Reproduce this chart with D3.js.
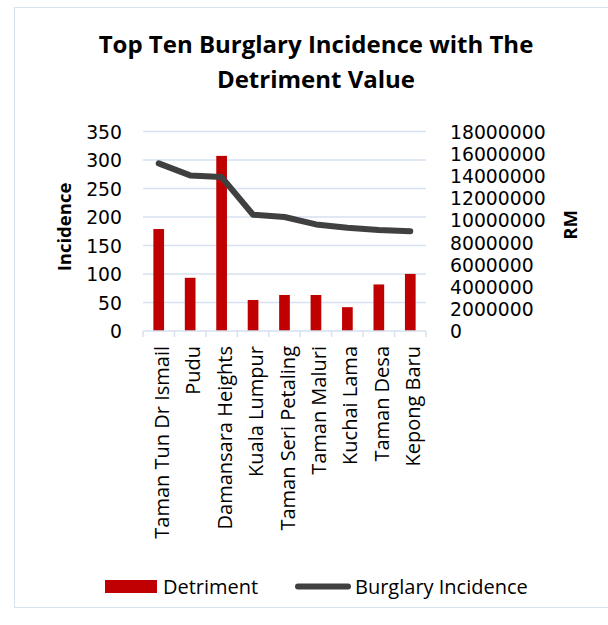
<!DOCTYPE html>
<html>
<head>
<meta charset="utf-8">
<script src="https://cdn.jsdelivr.net/npm/d3@7"></script>
<style>
  html, body { margin: 0; padding: 0; background: #fff; }
  svg { display: block; }
  text { font-family: "Open Sans", Lato, sans-serif; fill: #000; }
</style>
</head>
<body>
<svg id="chart" width="608" height="625"></svg>
<script>
const categories = ["Taman Tun Dr Ismail", "Pudu", "Damansara Heights", "Kuala Lumpur",
  "Taman Seri Petaling", "Taman Maluri", "Kuchai Lama", "Taman Desa", "Kepong Baru"];
const detriment = [9200000, 4800000, 15800000, 2800000, 3250000, 3250000, 2150000, 4200000, 5150000];
const incidence = [294, 273, 270, 204, 200, 187, 181, 177, 175];
const leftTicks = [0, 50, 100, 150, 200, 250, 300, 350];
const rightTicks = [0, 2000000, 4000000, 6000000, 8000000, 10000000, 12000000, 14000000, 16000000, 18000000];

const svg = d3.select("#chart");
const plot = { left: 143, right: 426, top: 131.5, bottom: 331 };
const TICKFONT = "'DejaVu Sans', sans-serif";

// chart border
svg.append("rect").attr("x", 14.5).attr("y", 7.5).attr("width", 620).attr("height", 600)
  .attr("fill", "none").attr("stroke", "#d9e1ee").attr("stroke-width", 1);

const x = d3.scaleBand().domain(categories).range([plot.left, plot.right]).paddingInner(0).paddingOuter(0);
const yL = d3.scaleLinear().domain([0, 350]).range([plot.bottom, plot.top]);
const yR = d3.scaleLinear().domain([0, 18000000]).range([plot.bottom, plot.top]);

// gridlines
svg.append("g").selectAll("line").data(leftTicks.slice(1)).join("line")
  .attr("x1", plot.left).attr("x2", plot.right)
  .attr("y1", d => yL(d)).attr("y2", d => yL(d))
  .attr("stroke", "#d6e1f1").attr("stroke-width", 1.5);

// bars
const bw = x.bandwidth() * 0.34;
svg.append("g").selectAll("rect").data(categories).join("rect")
  .attr("x", d => x(d) + x.bandwidth() / 2 - bw / 2)
  .attr("width", bw)
  .attr("y", (d, i) => yR(detriment[i]))
  .attr("height", (d, i) => plot.bottom - yR(detriment[i]))
  .attr("fill", "#c00000");

// bottom axis
const xAxis = svg.append("g").attr("transform", `translate(0,${plot.bottom})`)
  .call(d3.axisBottom(x).tickSize(0).tickFormat(""));
xAxis.select(".domain").attr("stroke", "#d6e1f1").attr("stroke-width", 1.5).attr("d", `M${plot.left},0H${plot.right}`);
svg.append("g").selectAll("line").data(categories.concat(["end"])).join("line")
  .attr("x1", (d, i) => plot.left + i * x.bandwidth())
  .attr("x2", (d, i) => plot.left + i * x.bandwidth())
  .attr("y1", plot.bottom).attr("y2", plot.bottom + 6)
  .attr("stroke", "#d6e1f1").attr("stroke-width", 1.5);

// category labels
svg.append("g").selectAll("text").data(categories).join("text")
  .attr("transform", d => `translate(${x(d) + x.bandwidth() / 2 + 10},${plot.bottom + 15}) rotate(-90)`)
  .attr("text-anchor", "end")
  .style("font-size", "20px")
  .text(d => d);

// left axis labels
const leftAxis = svg.append("g").attr("transform", `translate(122,0)`)
  .call(d3.axisLeft(yL).tickValues(leftTicks).tickSize(0).tickPadding(0));
leftAxis.select(".domain").remove();
leftAxis.selectAll("text").style("font-size", "18.8px").style("font-family", TICKFONT).attr("dy", "0.36em");

// right axis labels
const rightAxis = svg.append("g").attr("transform", `translate(450,0)`)
  .call(d3.axisRight(yR).tickValues(rightTicks).tickSize(0).tickPadding(0).tickFormat(d3.format("d")));
rightAxis.select(".domain").remove();
rightAxis.selectAll("text").style("font-size", "18.8px").style("font-family", TICKFONT).attr("dy", "0.36em");

// line
const line = d3.line()
  .x((d, i) => x(categories[i]) + x.bandwidth() / 2)
  .y(d => yL(d));
svg.append("path").datum(incidence)
  .attr("d", line)
  .attr("fill", "none").attr("stroke", "#404040").attr("stroke-width", 6)
  .attr("stroke-linecap", "round").attr("stroke-linejoin", "round");

// axis titles
svg.append("text").attr("transform", "translate(71,227) rotate(-90)")
  .attr("text-anchor", "middle").style("font-size", "18.5px").style("font-weight", "bold").text("Incidence");
svg.append("text").attr("transform", "translate(577,225) rotate(-90)")
  .attr("text-anchor", "middle").style("font-size", "18.5px").style("font-weight", "bold").text("RM");

// title
const title = svg.append("text").attr("text-anchor", "middle").style("font-size", "24px").style("font-weight", "bold");
title.append("tspan").attr("x", 316).attr("y", 53).text("Top Ten Burglary Incidence with The");
title.append("tspan").attr("x", 316).attr("y", 88).text("Detriment Value");

// legend
const lg = svg.append("g");
lg.append("rect").attr("x", 105).attr("y", 580).attr("width", 52).attr("height", 13).attr("fill", "#c00000");
lg.append("text").attr("x", 163).attr("y", 594).style("font-size", "20px").text("Detriment");
lg.append("line").attr("x1", 298).attr("x2", 348).attr("y1", 586.5).attr("y2", 586.5)
  .attr("stroke", "#404040").attr("stroke-width", 6).attr("stroke-linecap", "round");
lg.append("text").attr("x", 355).attr("y", 594).style("font-size", "20px").text("Burglary Incidence");
</script>
</body>
</html>
